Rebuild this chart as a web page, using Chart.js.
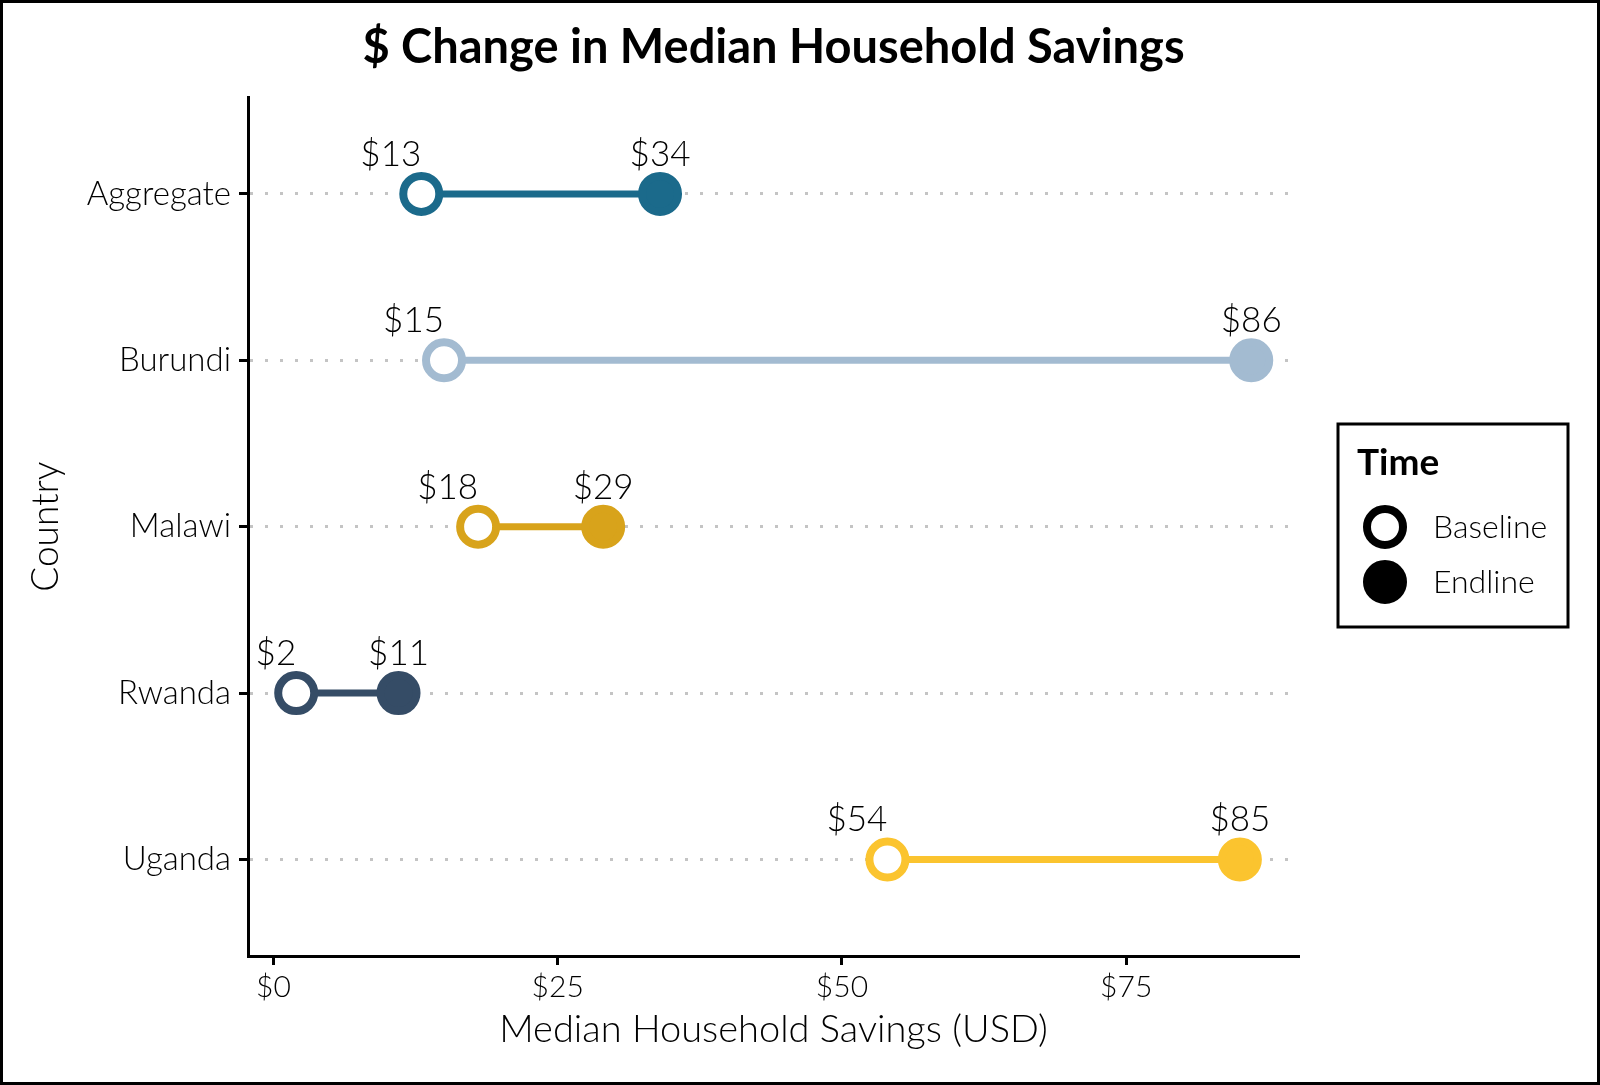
<!DOCTYPE html>
<html lang="en">
<head>
    <meta charset="UTF-8" />
    <title>$ Change in Median Household Savings</title>
    <script src="https://cdn.jsdelivr.net/npm/chart.js"></script>
    <style>
        body {
            margin: 0;
            background-color: #ffffff;
        }

        canvas {
            display: block;
        }
    </style>
</head>
<body>

<canvas id="savingsChart" width="1600" height="1085"></canvas>

<script>
    const countries = ['Aggregate', 'Burundi', 'Malawi', 'Rwanda', 'Uganda'];
    const baseline = [13, 15, 18, 2, 54];
    const endline = [34, 86, 29, 11, 85];
    const colors = ['#1b6a8b', '#a3bbd1', '#d8a31b', '#354c66', '#fbc42f'];
    const xTicks = [0, 25, 50, 75];
    const legendTitle = 'Time';
    const legendLabels = ['Baseline', 'Endline'];

    const FONT = 'Lato, "Open Sans", sans-serif';
    const TEXT = '#000000';

    const datasets = countries.map((name, i) => ({
        label: name,
        data: [
            { x: baseline[i], y: i + 1 },
            { x: endline[i], y: i + 1 }
        ],
        borderColor: colors[i],
        borderWidth: 7,
        pointRadius: 18,
        pointBorderWidth: 8,
        pointBorderColor: colors[i],
        pointBackgroundColor: ['#ffffff', colors[i]]
    }));

    // value labels: baseline right-aligned on the point, endline centred
    const valueLabels = {
        id: 'valueLabels',
        afterDatasetsDraw(chart) {
            const ctx = chart.ctx;
            ctx.save();
            ctx.font = '300 35px ' + FONT;
            ctx.fillStyle = TEXT;
            ctx.textBaseline = 'alphabetic';
            chart.data.datasets.forEach((ds, i) => {
                chart.getDatasetMeta(i).data.forEach((pt, j) => {
                    ctx.textAlign = j === 0 ? 'right' : 'center';
                    ctx.fillText('$' + ds.data[j].x, pt.x, pt.y - 28);
                });
            });
            ctx.restore();
        }
    };

    // white background, outer frame and the "Time" legend box
    const frameAndLegend = {
        id: 'frameAndLegend',
        beforeDraw(chart) {
            const ctx = chart.ctx;
            ctx.save();
            ctx.fillStyle = '#ffffff';
            ctx.fillRect(0, 0, chart.width, chart.height);
            ctx.restore();
        },
        afterDraw(chart) {
            const ctx = chart.ctx;
            ctx.save();
            ctx.strokeStyle = '#000000';
            ctx.lineWidth = 3;
            ctx.strokeRect(1.5, 1.5, chart.width - 3, chart.height - 3);

            ctx.strokeRect(1338, 424, 230, 203);
            ctx.fillStyle = '#000000';
            ctx.textAlign = 'left';
            ctx.textBaseline = 'alphabetic';
            ctx.font = 'bold 37px ' + FONT;
            ctx.fillText(legendTitle, 1357, 475);

            ctx.font = '300 32px ' + FONT;
            legendLabels.forEach((lbl, k) => {
                const cy = 527 + k * 55;
                ctx.beginPath();
                ctx.arc(1385, cy, 18, 0, Math.PI * 2);
                ctx.fillStyle = k === 0 ? '#ffffff' : '#000000';
                ctx.fill();
                ctx.lineWidth = 8;
                ctx.strokeStyle = '#000000';
                ctx.stroke();
                ctx.fillStyle = TEXT;
                ctx.fillText(lbl, 1433, cy + 11);
            });
            ctx.restore();
        }
    };

    new Chart(document.getElementById('savingsChart'), {
        type: 'line',
        data: { datasets: datasets },
        options: {
            responsive: false,
            devicePixelRatio: 1,
            animation: false,
            events: [],
            layout: {
                padding: { left: 20, right: 301, top: 10, bottom: 20 }
            },
            scales: {
                x: {
                    type: 'linear',
                    min: -2.24,
                    max: 90.2,
                    afterBuildTicks: s => { s.ticks = xTicks.map(v => ({ value: v })); },
                    afterFit: s => { s.height = 109; },
                    border: { display: true, color: '#000000', width: 3 },
                    grid: {
                        drawOnChartArea: false,
                        drawTicks: true,
                        tickLength: 9,
                        tickColor: '#000000',
                        tickWidth: 3
                    },
                    ticks: {
                        padding: 4,
                        color: TEXT,
                        font: { family: FONT, size: 30, weight: 300 },
                        callback: v => '$' + v
                    },
                    title: {
                        display: true,
                        text: 'Median Household Savings (USD)',
                        color: TEXT,
                        font: { family: FONT, size: 38, weight: 300 },
                        padding: { top: 0, bottom: 12 }
                    }
                },
                y: {
                    type: 'linear',
                    reverse: true,
                    min: 0.42,
                    max: 5.58,
                    afterBuildTicks: s => { s.ticks = countries.map((c, i) => ({ value: i + 1 })); },
                    afterFit: s => { s.width = 228; },
                    border: { display: true, color: '#000000', width: 3, dash: [3, 12] },
                    grid: {
                        color: '#c4c4c4',
                        lineWidth: 3,
                        drawTicks: true,
                        tickLength: 9,
                        tickColor: '#000000',
                        tickWidth: 3,
                        tickBorderDash: [0, 0]
                    },
                    ticks: {
                        padding: 8,
                        color: TEXT,
                        font: { family: FONT, size: 33, weight: 300 },
                        callback: v => countries[v - 1]
                    },
                    title: {
                        display: true,
                        text: 'Country',
                        color: TEXT,
                        font: { family: FONT, size: 37, weight: 300 },
                        padding: { top: 4, bottom: 0 }
                    }
                }
            },
            plugins: {
                legend: { display: false },
                tooltip: { enabled: false },
                title: {
                    display: true,
                    fullSize: false,
                    text: '$ Change in Median Household Savings',
                    color: '#000000',
                    font: { family: FONT, size: 47, weight: 'bold' },
                    padding: { top: 10, bottom: 21 }
                }
            }
        },
        plugins: [valueLabels, frameAndLegend]
    });
</script>

</body>
</html>
